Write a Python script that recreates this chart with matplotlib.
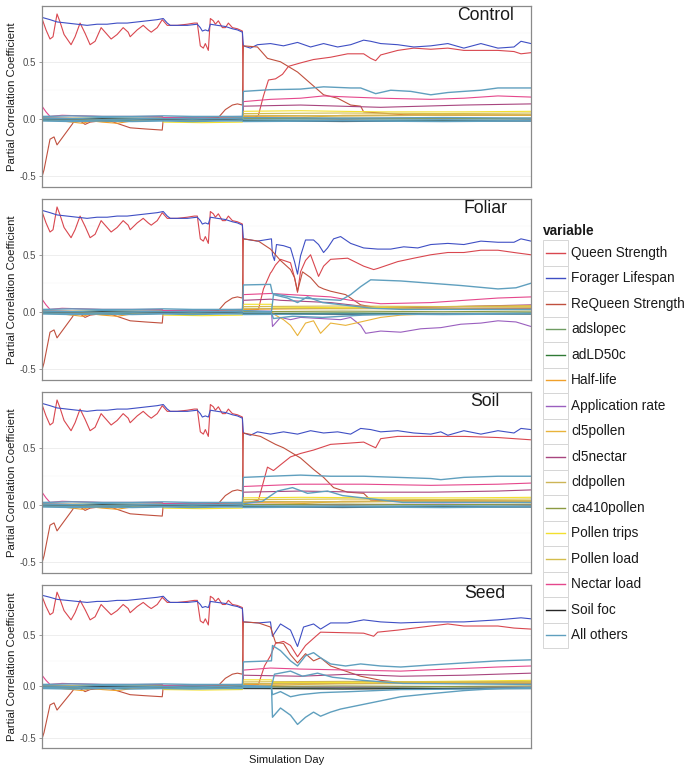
import matplotlib
matplotlib.use("Agg")
import matplotlib.pyplot as plt
from matplotlib.patches import Rectangle
from matplotlib.ticker import MultipleLocator

plt.rcParams["font.family"] = ["Liberation Sans", "DejaVu Sans"]
plt.rcParams["axes.unicode_minus"] = False

# ============================================================
# DATA (day index across the simulation, requeening at day 200)
# ============================================================

PANELS = ["Control", "Foliar", "Soil", "Seed"]

VARIABLES = ["Queen Strength", "Forager Lifespan", "ReQueen Strength", "adslopec",
             "adLD50c", "Half-life", "Application rate", "cl5pollen", "cl5nectar",
             "cldpollen", "ca410pollen", "Pollen trips", "Pollen load", "Nectar load",
             "Soil foc", "All others"]

COLORS = ["#d9474f", "#3f4fc4", "#c0503e", "#6f9c62", "#2f7a35", "#f0a02a",
          "#9a5fbf", "#e9b33a", "#a8457f", "#cdb556", "#8c9a42", "#f3e02e",
          "#d4bd4c", "#e5478c", "#262626", "#5f9fbe"]

# ---- first year, identical in every scenario
QS_PRE_D = [0, 4, 8, 11, 15, 18, 22, 29, 33, 38, 43, 48, 53, 59, 64, 69, 75, 81, 86,
            88, 95, 101, 106, 109, 115, 120, 123, 125, 135, 145, 152, 155, 158, 161,
            163, 166, 168, 171, 173, 176, 180, 183, 186, 190, 195, 200]
QS_PRE_V = [0.88, 0.78, 0.70, 0.72, 0.92, 0.85, 0.74, 0.65, 0.72, 0.84, 0.75, 0.65,
            0.68, 0.80, 0.75, 0.70, 0.74, 0.80, 0.76, 0.72, 0.78, 0.82, 0.78, 0.76,
            0.80, 0.87, 0.84, 0.82, 0.82, 0.83, 0.84, 0.84, 0.64, 0.62, 0.66, 0.60,
            0.88, 0.86, 0.83, 0.86, 0.80, 0.80, 0.84, 0.80, 0.79, 0.77]

FL_PRE_D = [0, 8, 15, 25, 35, 45, 55, 65, 75, 85, 95, 105, 115, 121, 125, 128, 135,
            145, 155, 158, 160, 163, 166, 168, 175, 183, 190, 195, 200]
FL_PRE_V = [0.89, 0.87, 0.85, 0.84, 0.83, 0.82, 0.83, 0.83, 0.84, 0.84, 0.85, 0.86,
            0.87, 0.88, 0.84, 0.82, 0.82, 0.82, 0.83, 0.80, 0.77, 0.78, 0.77, 0.83,
            0.82, 0.81, 0.79, 0.78, 0.76]

RQ_PRE_D = [0, 2, 8, 12, 15, 20, 25, 30, 33, 38, 43, 48, 58, 68, 78, 88, 103, 120,
            121, 140, 160, 176, 183, 190, 195, 200]
RQ_PRE_V = [-0.51, -0.45, -0.18, -0.16, -0.23, -0.17, -0.11, -0.05, -0.01, -0.02,
            -0.05, -0.03, -0.02, -0.02, -0.05, -0.08, -0.09, -0.10, 0.0, 0.01, 0.0,
            0.01, 0.08, 0.12, 0.13, 0.12]

NL_PRE_D = [0, 4, 8, 20, 60, 120, 121, 200]
NL_PRE_V = [0.11, 0.06, 0.02, 0.03, 0.02, 0.02, 0.01, 0.02]

PT_PRE_D = [0, 60, 120, 121, 160, 200]
PT_PRE_V = [0.0, 0.005, 0.0, -0.03, -0.035, -0.03]

HL_PRE_D = [0, 30, 40, 50, 60, 75, 90, 120, 200]
HL_PRE_V = [0.0, -0.03, -0.04, -0.02, -0.03, -0.04, -0.02, -0.01, -0.01]

FLAT_PRE_D = [0, 60, 121, 200]

# ---- after requeening, per scenario
FL_POST = {
    "Control": ([201, 208, 215, 228, 241, 255, 268, 281, 295, 308, 321, 328, 338, 355,
                 371, 388, 405, 421, 438, 455, 471, 478, 488],
                [0.64, 0.62, 0.65, 0.66, 0.64, 0.67, 0.63, 0.66, 0.63, 0.65, 0.69, 0.68,
                 0.66, 0.65, 0.63, 0.64, 0.66, 0.62, 0.66, 0.62, 0.63, 0.68, 0.66]),
    "Foliar": ([201, 215, 229, 230, 232, 234, 241, 248, 252, 255, 258, 263, 271, 276,
                281, 285, 291, 298, 308, 321, 335, 348, 361, 375, 388, 405, 421, 438,
                455, 471, 478, 488],
               [0.64, 0.62, 0.64, 0.50, 0.45, 0.59, 0.58, 0.56, 0.44, 0.33, 0.49, 0.63,
                0.63, 0.59, 0.52, 0.56, 0.64, 0.66, 0.60, 0.56, 0.55, 0.55, 0.57, 0.56,
                0.59, 0.60, 0.59, 0.62, 0.61, 0.61, 0.64, 0.62]),
    "Soil": ([201, 208, 215, 228, 241, 255, 268, 281, 295, 308, 318, 328, 338, 355, 371,
              388, 398, 405, 421, 438, 455, 471, 478, 488],
             [0.63, 0.61, 0.64, 0.62, 0.64, 0.62, 0.65, 0.63, 0.64, 0.62, 0.67, 0.66,
              0.64, 0.65, 0.63, 0.62, 0.64, 0.61, 0.65, 0.62, 0.65, 0.63, 0.67, 0.66]),
    "Seed": ([201, 216, 228, 230, 238, 248, 255, 261, 271, 278, 288, 305, 321, 338, 358,
              388, 421, 455, 478, 488],
             [0.63, 0.62, 0.63, 0.49, 0.61, 0.55, 0.39, 0.58, 0.61, 0.56, 0.62, 0.62,
              0.65, 0.63, 0.62, 0.63, 0.63, 0.65, 0.67, 0.66]),
}

QS_POST = {
    "Control": ([201, 210, 216, 221, 226, 233, 240, 246, 258, 271, 288, 305, 321, 328,
                 333, 338, 355, 371, 388, 405, 421, 438, 455, 471, 478, 488],
                [0.01, 0.0, 0.03, 0.20, 0.34, 0.35, 0.39, 0.46, 0.49, 0.52, 0.54, 0.57,
                 0.57, 0.53, 0.51, 0.56, 0.60, 0.62, 0.61, 0.62, 0.60, 0.60, 0.60, 0.59,
                 0.57, 0.58]),
    "Foliar": ([201, 216, 221, 228, 229, 233, 238, 248, 252, 255, 258, 263, 268, 276,
                281, 288, 305, 321, 331, 335, 355, 371, 388, 405, 421, 438, 455, 471, 488],
               [0.01, 0.02, 0.20, 0.34, 0.35, 0.41, 0.46, 0.43, 0.30, 0.17, 0.35, 0.45,
                0.50, 0.31, 0.40, 0.46, 0.47, 0.40, 0.37, 0.38, 0.44, 0.47, 0.50, 0.52,
                0.52, 0.54, 0.54, 0.52, 0.50]),
    "Soil": ([201, 216, 225, 231, 238, 248, 258, 271, 288, 305, 321, 328, 333, 338, 355,
              388, 421, 455, 488],
             [0.01, 0.04, 0.33, 0.30, 0.35, 0.42, 0.45, 0.48, 0.53, 0.54, 0.55, 0.52,
              0.50, 0.58, 0.60, 0.60, 0.60, 0.59, 0.57]),
    "Seed": ([201, 216, 222, 228, 233, 241, 248, 255, 263, 271, 278, 321, 331, 335, 355,
              388, 405, 421, 455, 471, 488],
             [0.01, 0.02, 0.20, 0.30, 0.42, 0.44, 0.40, 0.29, 0.40, 0.47, 0.53, 0.52,
              0.49, 0.53, 0.55, 0.59, 0.61, 0.59, 0.59, 0.57, 0.56]),
}

RQ_POST = {
    "Control": ([201, 215, 225, 238, 255, 268, 281, 295, 308, 318, 321, 338, 361, 400, 488],
                [0.64, 0.63, 0.53, 0.50, 0.41, 0.31, 0.21, 0.18, 0.12, 0.11, 0.06, 0.05,
                 0.035, 0.03, 0.03]),
    "Foliar": ([201, 216, 228, 238, 248, 252, 255, 260, 268, 276, 281, 288, 303, 318,
                338, 488],
               [0.64, 0.62, 0.55, 0.45, 0.37, 0.30, 0.18, 0.35, 0.30, 0.22, 0.20, 0.18,
                0.15, 0.06, 0.03, 0.03]),
    "Soil": ([201, 218, 233, 241, 258, 271, 281, 291, 305, 321, 328, 350, 488],
             [0.63, 0.60, 0.53, 0.50, 0.41, 0.31, 0.24, 0.15, 0.11, 0.10, 0.04, 0.035, 0.03]),
    "Seed": ([201, 216, 228, 233, 241, 248, 255, 263, 271, 278, 288, 303, 318, 338, 358, 488],
             [0.63, 0.62, 0.58, 0.43, 0.42, 0.31, 0.23, 0.32, 0.25, 0.28, 0.20, 0.15,
              0.10, 0.06, 0.04, 0.03]),
}

NL_POST = {
    "Control": ([201, 228, 258, 281, 308, 338, 388, 421, 455, 488],
                [0.15, 0.17, 0.18, 0.20, 0.19, 0.18, 0.17, 0.18, 0.20, 0.19]),
    "Foliar": ([201, 228, 248, 288, 308, 338, 388, 455, 488],
               [0.15, 0.16, 0.15, 0.13, 0.10, 0.07, 0.08, 0.12, 0.13]),
    "Soil": ([201, 258, 321, 388, 455, 488],
             [0.16, 0.18, 0.18, 0.17, 0.18, 0.19]),
    "Seed": ([201, 228, 258, 308, 358, 405, 455, 488],
             [0.16, 0.18, 0.17, 0.16, 0.15, 0.17, 0.19, 0.20]),
}

CN_POST = {
    "Control": ([201, 258, 338, 421, 488], [0.11, 0.12, 0.10, 0.12, 0.13]),
    "Foliar": ([201, 228, 238, 288, 338, 388, 488], [0.10, 0.11, 0.10, 0.08, 0.03, 0.04, 0.06]),
    "Soil": ([201, 258, 321, 388, 455, 488], [0.11, 0.12, 0.11, 0.11, 0.12, 0.13]),
    "Seed": ([201, 258, 308, 358, 421, 488], [0.11, 0.10, 0.12, 0.10, 0.11, 0.13]),
}

AR_POST = {
    "Control": ([201, 300, 400, 488], [0.005, 0.0, 0.005, 0.0]),
    "Foliar": ([201, 229, 230, 238, 248, 258, 278, 298, 308, 318, 323, 338, 358, 378,
                398, 418, 438, 455, 473, 488],
               [0.005, 0.005, -0.13, -0.05, -0.07, -0.05, -0.06, -0.07, -0.05, -0.12,
                -0.19, -0.17, -0.18, -0.15, -0.14, -0.11, -0.10, -0.08, -0.09, -0.13]),
    "Soil": ([201, 300, 400, 488], [0.005, 0.0, 0.005, 0.0]),
    "Seed": ([201, 300, 400, 488], [0.0, -0.005, 0.0, -0.005]),
}

CP_POST = {
    "Control": ([201, 260, 300, 400, 488], [0.0, 0.01, 0.03, 0.035, 0.03]),
    "Foliar": ([201, 229, 233, 241, 248, 255, 263, 271, 278, 288, 303, 318, 338, 358,
                388, 488],
               [0.0, 0.0, -0.03, -0.07, -0.12, -0.21, -0.10, -0.08, -0.19, -0.10, -0.12,
                -0.09, -0.05, -0.03, -0.02, -0.02]),
    "Soil": ([201, 260, 300, 400, 488], [0.0, 0.01, 0.03, 0.035, 0.03]),
    "Seed": ([201, 260, 300, 400, 488], [0.0, 0.02, 0.03, 0.04, 0.035]),
}

HL_POST = {
    "Control": ([201, 300, 400, 488], [0.02, 0.025, 0.03, 0.03]),
    "Foliar": ([201, 300, 400, 488], [0.02, 0.03, 0.045, 0.05]),
    "Soil": ([201, 300, 400, 488], [0.02, 0.025, 0.03, 0.03]),
    "Seed": ([201, 300, 400, 488], [0.02, 0.03, 0.04, 0.045]),
}

PT_POST = {
    "Control": ([201, 258, 338, 421, 488], [0.065, 0.07, 0.06, 0.06, 0.065]),
    "Foliar": ([201, 229, 230, 300, 400, 488], [0.065, 0.065, 0.04, 0.035, 0.045, 0.05]),
    "Soil": ([201, 258, 338, 421, 488], [0.06, 0.065, 0.06, 0.06, 0.065]),
    "Seed": ([201, 229, 230, 300, 400, 488], [0.065, 0.065, 0.04, 0.04, 0.05, 0.06]),
}

# small, nearly flat contributors (same in every scenario)
PL_PRE_V = [-0.01, -0.005, -0.01, -0.01]
PL_POST = ([201, 300, 400, 488], [0.045, 0.05, 0.045, 0.05])
CD_PRE_V = [0.0, 0.005, 0.0, 0.0]
CD_POST = ([201, 300, 400, 488], [0.03, 0.025, 0.03, 0.035])
AS_PRE_V = [-0.01, -0.005, -0.01, -0.01]
AS_POST = ([201, 300, 400, 488], [-0.015, -0.01, -0.015, -0.01])
AD_PRE_V = [-0.015, -0.02, -0.015, -0.015]
AD_POST = ([201, 300, 400, 488], [-0.02, -0.015, -0.02, -0.015])
CA_PRE_V = [0.005, 0.0, 0.005, 0.005]
CA_POST = ([201, 300, 400, 488], [0.0, 0.005, 0.0, 0.005])
SF_PRE_V = [-0.005, 0.0, -0.005, -0.005]
SF_POST = ([201, 300, 400, 488], [-0.02, -0.025, -0.02, -0.02])

# "All others": several lumped parameters drawn in one colour
AO_PRE_D = [0, 30, 60, 90, 121, 150, 180, 200]
AO_PRE_V = [
    [0.02, 0.025, 0.02, 0.02, 0.025, 0.02, 0.02, 0.02],
    [0.005, 0.0, 0.01, 0.005, 0.0, 0.005, 0.0, 0.005],
    [-0.01, -0.015, -0.01, -0.01, -0.015, -0.01, -0.015, -0.01],
    [-0.02, -0.025, -0.02, -0.025, -0.02, -0.025, -0.02, -0.02],
]
AO_POST = {
    "Control": [
        ([201, 228, 258, 281, 308, 318, 333, 348, 368, 388, 405, 421, 438, 455, 488],
         [0.24, 0.255, 0.26, 0.28, 0.27, 0.27, 0.22, 0.25, 0.24, 0.21, 0.23, 0.24, 0.25,
          0.27, 0.27]),
        ([201, 300, 400, 488], [0.01, 0.005, 0.01, 0.005]),
        ([201, 300, 400, 488], [-0.01, -0.015, -0.01, -0.015]),
        ([201, 300, 400, 488], [-0.025, -0.02, -0.025, -0.02]),
    ],
    "Foliar": [
        ([201, 228, 230, 248, 258, 278, 298, 308, 318, 328, 358, 388, 418, 455, 473, 488],
         [0.235, 0.24, 0.16, 0.13, 0.12, 0.11, 0.10, 0.15, 0.22, 0.28, 0.27, 0.25, 0.23,
          0.20, 0.21, 0.25]),
        ([201, 229, 231, 245, 255, 265, 280, 300, 330, 360, 488],
         [0.01, 0.0, 0.15, 0.12, 0.08, 0.13, 0.08, 0.06, 0.03, 0.02, 0.02]),
        ([201, 229, 231, 250, 280, 320, 380, 488],
         [-0.01, -0.01, -0.06, -0.04, -0.05, -0.03, -0.02, -0.015]),
        ([201, 300, 400, 488], [-0.025, -0.02, -0.025, -0.02]),
    ],
    "Soil": [
        ([201, 228, 258, 288, 321, 355, 388, 398, 421, 455, 488],
         [0.24, 0.25, 0.26, 0.25, 0.25, 0.24, 0.23, 0.22, 0.24, 0.25, 0.25]),
        ([201, 220, 235, 250, 265, 285, 300, 330, 360, 488],
         [0.01, 0.03, 0.12, 0.15, 0.10, 0.12, 0.08, 0.05, 0.02, 0.02]),
        ([201, 300, 400, 488], [-0.01, -0.015, -0.01, -0.015]),
        ([201, 300, 400, 488], [-0.025, -0.02, -0.025, -0.02]),
    ],
    "Seed": [
        ([201, 229, 230, 238, 248, 255, 263, 271, 278, 288, 303, 318, 338, 358, 388, 421,
          455, 488],
         [0.24, 0.25, 0.40, 0.35, 0.25, 0.20, 0.30, 0.33, 0.28, 0.22, 0.20, 0.22, 0.20,
          0.19, 0.21, 0.23, 0.25, 0.26]),
        ([201, 229, 232, 248, 260, 275, 290, 320, 360, 488],
         [0.01, 0.0, 0.12, 0.15, 0.10, 0.13, 0.09, 0.06, 0.03, 0.02]),
        ([201, 229, 230, 238, 248, 255, 263, 271, 278, 288, 298, 318, 338, 358, 388, 421,
          455, 488],
         [0.0, 0.0, -0.30, -0.21, -0.28, -0.37, -0.30, -0.25, -0.29, -0.25, -0.22, -0.18,
          -0.14, -0.10, -0.07, -0.04, -0.02, -0.01]),
        ([201, 229, 230, 238, 248, 258, 278, 308, 358, 488],
         [-0.01, -0.01, -0.08, -0.05, -0.10, -0.08, -0.06, -0.05, -0.03, -0.02]),
    ],
}


# ============================================================
# HELPERS
# ============================================================

def joined(pre_d, pre_v, post):
    return list(pre_d) + list(post[0]), list(pre_v) + list(post[1])


def panel_series(panel):
    """(variable, x, y) tuples in legend order for one scenario."""
    out = []
    out.append(("Queen Strength",) + joined(QS_PRE_D, QS_PRE_V, QS_POST[panel]))
    out.append(("Forager Lifespan",) + joined(FL_PRE_D, FL_PRE_V, FL_POST[panel]))
    out.append(("ReQueen Strength",) + joined(RQ_PRE_D, RQ_PRE_V, RQ_POST[panel]))
    out.append(("adslopec",) + joined(FLAT_PRE_D, AS_PRE_V, AS_POST))
    out.append(("adLD50c",) + joined(FLAT_PRE_D, AD_PRE_V, AD_POST))
    out.append(("Half-life",) + joined(HL_PRE_D, HL_PRE_V, HL_POST[panel]))
    out.append(("Application rate",) + joined(FLAT_PRE_D, CA_PRE_V, AR_POST[panel]))
    out.append(("cl5pollen",) + joined(FLAT_PRE_D, SF_PRE_V, CP_POST[panel]))
    out.append(("cl5nectar",) + joined(FLAT_PRE_D, CA_PRE_V, CN_POST[panel]))
    out.append(("cldpollen",) + joined(FLAT_PRE_D, CD_PRE_V, CD_POST))
    out.append(("ca410pollen",) + joined(FLAT_PRE_D, CA_PRE_V, CA_POST))
    out.append(("Pollen trips",) + joined(PT_PRE_D, PT_PRE_V, PT_POST[panel]))
    out.append(("Pollen load",) + joined(FLAT_PRE_D, PL_PRE_V, PL_POST))
    out.append(("Nectar load",) + joined(NL_PRE_D, NL_PRE_V, NL_POST[panel]))
    out.append(("Soil foc",) + joined(FLAT_PRE_D, SF_PRE_V, SF_POST))
    for pre_v, post in zip(AO_PRE_V, AO_POST[panel]):
        out.append(("All others",) + joined(AO_PRE_D, pre_v, post))
    return out


# ============================================================
# FIGURE
# ============================================================

fig = plt.figure(figsize=(6.93, 7.71), dpi=100)

W, H = 693.0, 771.0
LEFT, RIGHT = 42, 531
PANEL_BOXES = [(6, 187), (199, 380), (392, 573), (585, 748)]   # top, bottom in px

color_of = dict(zip(VARIABLES, COLORS))

for panel, (top, bottom) in zip(PANELS, PANEL_BOXES):
    ax = fig.add_axes([LEFT / W, 1 - bottom / H, (RIGHT - LEFT) / W, (bottom - top) / H])

    for name, x, y in panel_series(panel):
        lw = 1.0 if name == "All others" else 0.8
        ax.plot(x, y, color=color_of[name], linewidth=lw, solid_joinstyle="round")

    ax.set_xlim(0, 488)
    ax.set_ylim(-0.6, 0.99)
    ax.yaxis.set_major_locator(MultipleLocator(0.5))
    ax.yaxis.set_minor_locator(MultipleLocator(0.25))
    ax.grid(which="major", axis="y", color="#ebebeb", linewidth=0.6, zorder=0)
    ax.grid(which="minor", axis="y", color="#f4f4f4", linewidth=0.35, zorder=0)
    ax.set_axisbelow(True)
    ax.set_xticks([])
    ax.tick_params(axis="y", which="major", labelsize=7, labelcolor="#4d4d4d",
                   color="#8a8a8a", length=2.5, width=0.6, pad=1.5)
    ax.tick_params(axis="y", which="minor", length=0)
    for sp in ax.spines.values():
        sp.set_color("#8a8a8a")
        sp.set_linewidth(0.9)

    ax.set_ylabel("Partial Correlation Coefficient", fontsize=8.2, color="#1a1a1a")
    ax.yaxis.set_label_coords(-0.052, 0.5)

    ax.text(0.906, 0.95, panel, transform=ax.transAxes, ha="center", va="center",
            fontsize=12.7, color="#1a1a1a")

fig.text(286.5 / W, 1 - 760 / H, "Simulation Day", ha="center", va="center",
         fontsize=8, color="#1a1a1a")

# legend, drawn in pixel space to mimic ggplot's keyed boxes
lax = fig.add_axes([0, 0, 1, 1])
lax.set_xlim(0, W)
lax.set_ylim(H, 0)
lax.axis("off")
lax.patch.set_alpha(0)

lax.text(543, 231, "variable", fontsize=9.8, fontweight="bold", va="center",
         ha="left", color="#1a1a1a")
KEY_TOP, KEY_H, KEY_W = 240, 25.5, 24.5
for i, (name, col) in enumerate(zip(VARIABLES, COLORS)):
    ky = KEY_TOP + i * KEY_H
    lax.add_patch(Rectangle((543, ky), KEY_W, KEY_H, facecolor="white",
                            edgecolor="#d6d6d6", linewidth=0.7))
    lax.plot([546, 565], [ky + KEY_H / 2, ky + KEY_H / 2], color=col, linewidth=1.0)
    lax.text(571, ky + KEY_H / 2, name, fontsize=9.8, va="center", ha="left",
             color="#1a1a1a")

fig.savefig("out.png", dpi=100)
